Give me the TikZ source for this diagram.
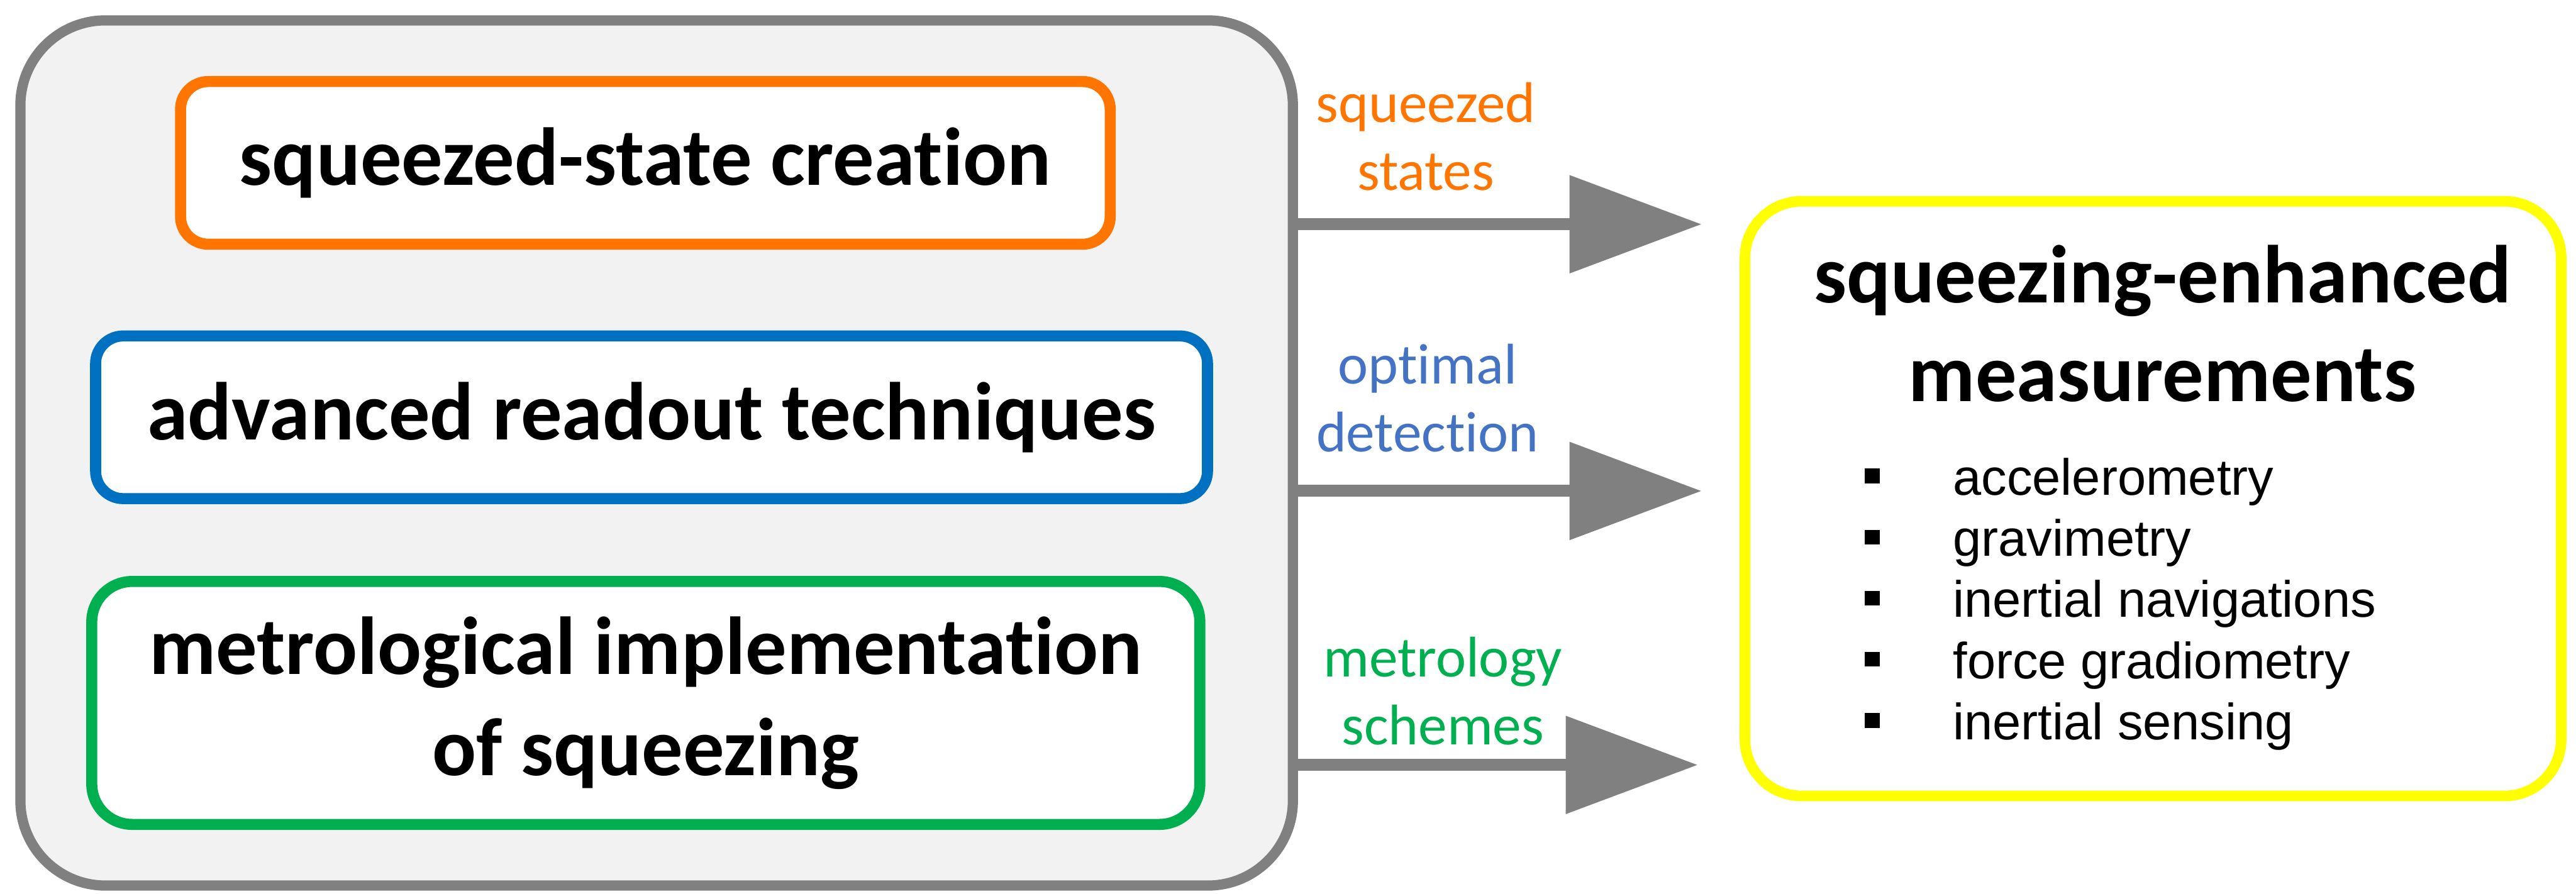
\documentclass[tikz,border=0pt]{standalone}
\usepackage{fontspec}
\setmainfont{Carlito}[Ligatures=NoCommon]
\newfontfamily\listfont{Liberation Sans}
\usepackage{tikz}
\usetikzlibrary{arrows.meta,positioning}
\definecolor{PanelGray}{HTML}{808080}
\definecolor{PanelFill}{HTML}{F2F2F2}
\definecolor{SqOrange}{HTML}{FF7500}
\definecolor{SqBlue}{HTML}{0070C0}
\definecolor{TagBlue}{HTML}{4472C4}
\definecolor{SqGreen}{HTML}{00B050}
\definecolor{SqYellow}{HTML}{FFFF00}

\begin{document}
\begin{tikzpicture}[>=Latex,
  task/.style={draw,line width=2.6mm,rounded corners=6.5mm,fill=white,align=center,font=\bfseries\fontsize{55}{68}\selectfont},
  tag/.style={align=center,anchor=base,font=\fontsize{38.4}{45.5}\selectfont},
  flow/.style={PanelGray,line width=2.8mm,-{Triangle[length=31.1mm,width=22.4mm]}},
  listitem/.style={anchor=base west,inner sep=0pt,font=\listfont\fontsize{34.2}{41}\selectfont},
  bulletbox/.style={fill=black,minimum size=3.5mm,inner sep=0pt}]
  \useasboundingbox (0,0) rectangle (60.63,21.04);
  % left panel with the three building blocks
  \node[draw=PanelGray,fill=PanelFill,line width=2.4mm,rounded corners=2cm,minimum width=29.95cm,minimum height=20.37cm] (panel) at (15.455,10.375) {};
  \node[task,draw=SqOrange,minimum width=21.88cm,minimum height=3.83cm] (create) at (15.19,17.205) {squeezed-state creation};
  \node[task,draw=SqBlue,minimum width=26.17cm,minimum height=3.83cm] (readout) at (15.335,11.215) {advanced readout techniques};
  \node[task,draw=SqGreen,rounded corners=9.5mm,minimum width=26.08cm,minimum height=5.72cm] (implement) at (15.2,4.49) {metrological implementation~\\of squeezing};
  % target box
  \node[draw=SqYellow,line width=2.5mm,rounded corners=1.33cm,minimum width=19.21cm,minimum height=14cm] (apps) at (50.675,9.3) {};
  \node[align=center,anchor=base,font=\bfseries\fontsize{55}{66}\selectfont] (title) at (50.9,11.59) {squeezing-enhanced\\measurements};
  \foreach \entry [count=\i] in {accelerometry,gravimetry,inertial navigations,force gradiometry,inertial sensing}{
    \node[listitem] (use\i) at (45.96,10.818-1.4375*\i) {\entry};
    \node[bulletbox] (dot\i) at (44.065,11.268-1.4375*\i) {};
  }
  % arrows
  \coordinate (tip1) at (40.05,15.76);
  \coordinate (tip2) at (40.05,9.48);
  \coordinate (tip3) at (39.96,3.03);
  \foreach \k in {1,2,3}{\draw[flow] (panel.east |- tip\k) -- (tip\k);}
  \node[tag,text=SqOrange] (lab1) at (33.56,16.56) {squeezed\\states};
  \node[tag,text=TagBlue] (lab2) at (33.60,10.41) {optimal\\detection};
  \node[tag,text=SqGreen] (lab3) at (33.96,3.50) {metrology\\schemes};
\end{tikzpicture}
\end{document}
